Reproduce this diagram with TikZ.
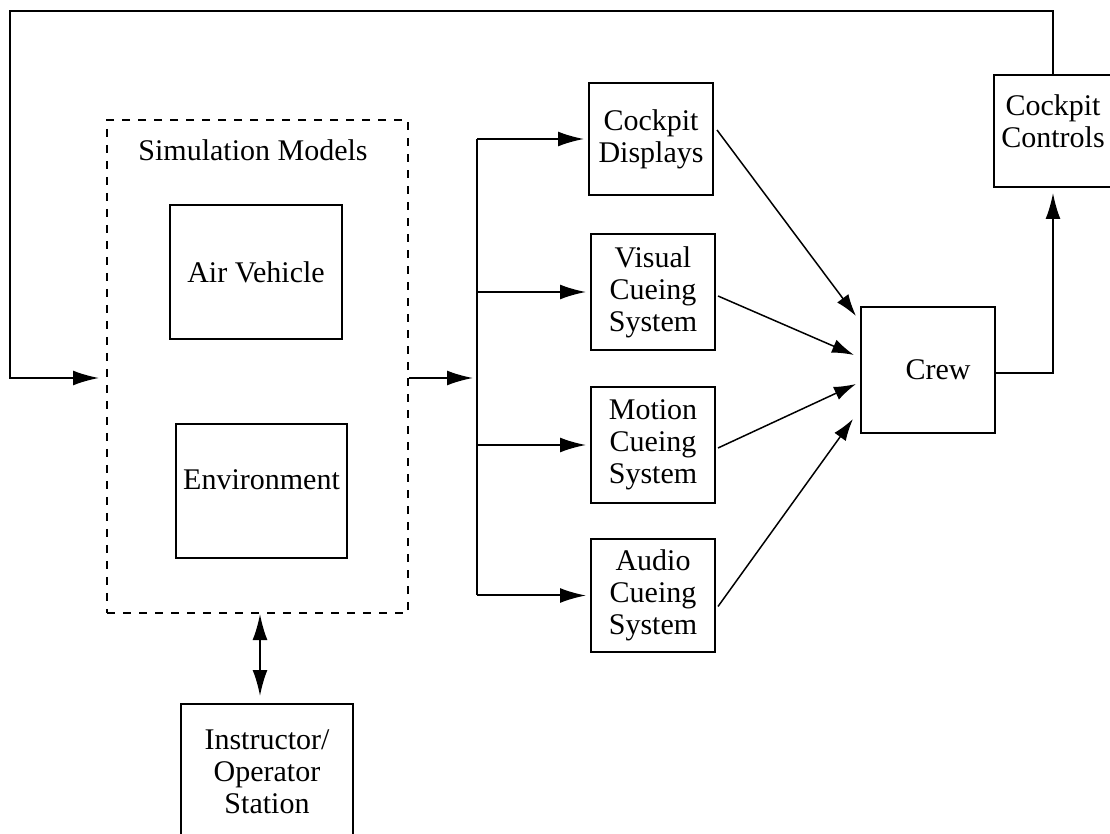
\documentclass[tikz,border=0pt]{standalone}
\usepackage{fontspec}
\setmainfont{Liberation Serif}
\usetikzlibrary{arrows.meta,calc}
\begin{document}
\begin{tikzpicture}[x=0.5pt,y=-0.5pt,
  box/.style={draw,line width=1pt,inner sep=0pt,align=center,font=\fontsize{15}{16}\selectfont},
  lbl/.style={inner sep=0pt,align=center,font=\fontsize{15}{16}\selectfont},
  arr/.style={-{Latex[length=13pt,width=7.5pt]},line width=1pt},
  darr/.style={{Latex[length=13pt,width=7.5pt]}-{Latex[length=13pt,width=7.5pt]},line width=1pt},
  diag/.style={-{Latex[length=11pt,width=7pt]},line width=0.75pt},
  line/.style={line width=1pt}]
\useasboundingbox (0,0) rectangle (1110,834);
\clip (0,0) rectangle (1110,834);
\fill[white] (0,0) rectangle (1110,834);
% nodes
\node[draw,dashed,dash pattern=on 4pt off 4pt,line width=1pt,minimum width=150.5pt,minimum height=246.5pt,inner sep=0pt] (sim) at (257.5,366.5) {};
\node[lbl] (title) at (253,150) {Simulation Models};
\node[box,minimum width=86pt,minimum height=67pt] (av) at (256,272) {Air Vehicle};
\node[box,minimum width=85.5pt,minimum height=67pt] (env) at (261.5,491) {Environment\\[-5pt]};
\node[box,minimum width=62pt,minimum height=56pt] (cd) at (651,139) {Cockpit\\Displays};
\node[box,minimum width=62pt,minimum height=58pt] (vis) at (653,292) {Visual\\Cueing\\System};
\node[box,minimum width=62pt,minimum height=58pt] (mot) at (653,445) {Motion\\Cueing\\System};
\node[box,minimum width=62pt,minimum height=56.5pt] (aud) at (653,595.5) {Audio\\Cueing\\System};
\node[box,minimum width=67pt,minimum height=63pt] (crew) at (928,370) {\hspace*{10pt}Crew};
\node[box,minimum width=59pt,minimum height=56pt] (cc) at (1053,131) {Cockpit\\Controls\\[-6pt]};
\node[box,minimum width=86pt,minimum height=68pt] (ins) at (267,772) {Instructor/\\Operator\\Station};
% coordinates
\coordinate (y378) at (0,378);
\coordinate (corner) at (10,11);
\coordinate (bus) at (477,378);
% feedback loop
\draw[arr,shorten >=3.5pt] (cc.north) |- (corner) |- (sim.west |- y378);
% outputs
\draw[arr,shorten >=2pt] (sim.east |- y378) -- (bus);
\draw[line] (bus |- cd.west) -- (bus |- aud.west);
\draw[arr,shorten >=2pt] (bus |- cd.west) -- (cd.west);
\draw[arr,shorten >=2pt] (bus |- vis.west) -- (vis.west);
\draw[arr,shorten >=2pt] (bus |- mot.west) -- (mot.west);
\draw[arr,shorten >=2pt] (bus |- aud.west) -- (aud.west);
% to crew
\draw[diag] ($(cd.east)+(3,-9)$) -- ($(crew.north west)+(-4,10)$);
\draw[diag] ($(vis.east)+(2,4)$) -- ($(crew.west)+(-6,-15)$);
\draw[diag] ($(mot.east)+(2,3)$) -- ($(crew.west)+(-4,14)$);
\draw[diag] ($(aud.east)+(2,11)$) -- ($(crew.west)+(-7,49)$);
% crew to controls
\draw[arr,shorten >=2.5pt] ($(crew.east)+(0,3)$) -| (cc.south);
% instructor
\draw[darr,shorten >=3.5pt] ([xshift=1.25pt]sim.south) -- ([xshift=1.25pt]sim.south |- ins.north);
\end{tikzpicture}
\end{document}
